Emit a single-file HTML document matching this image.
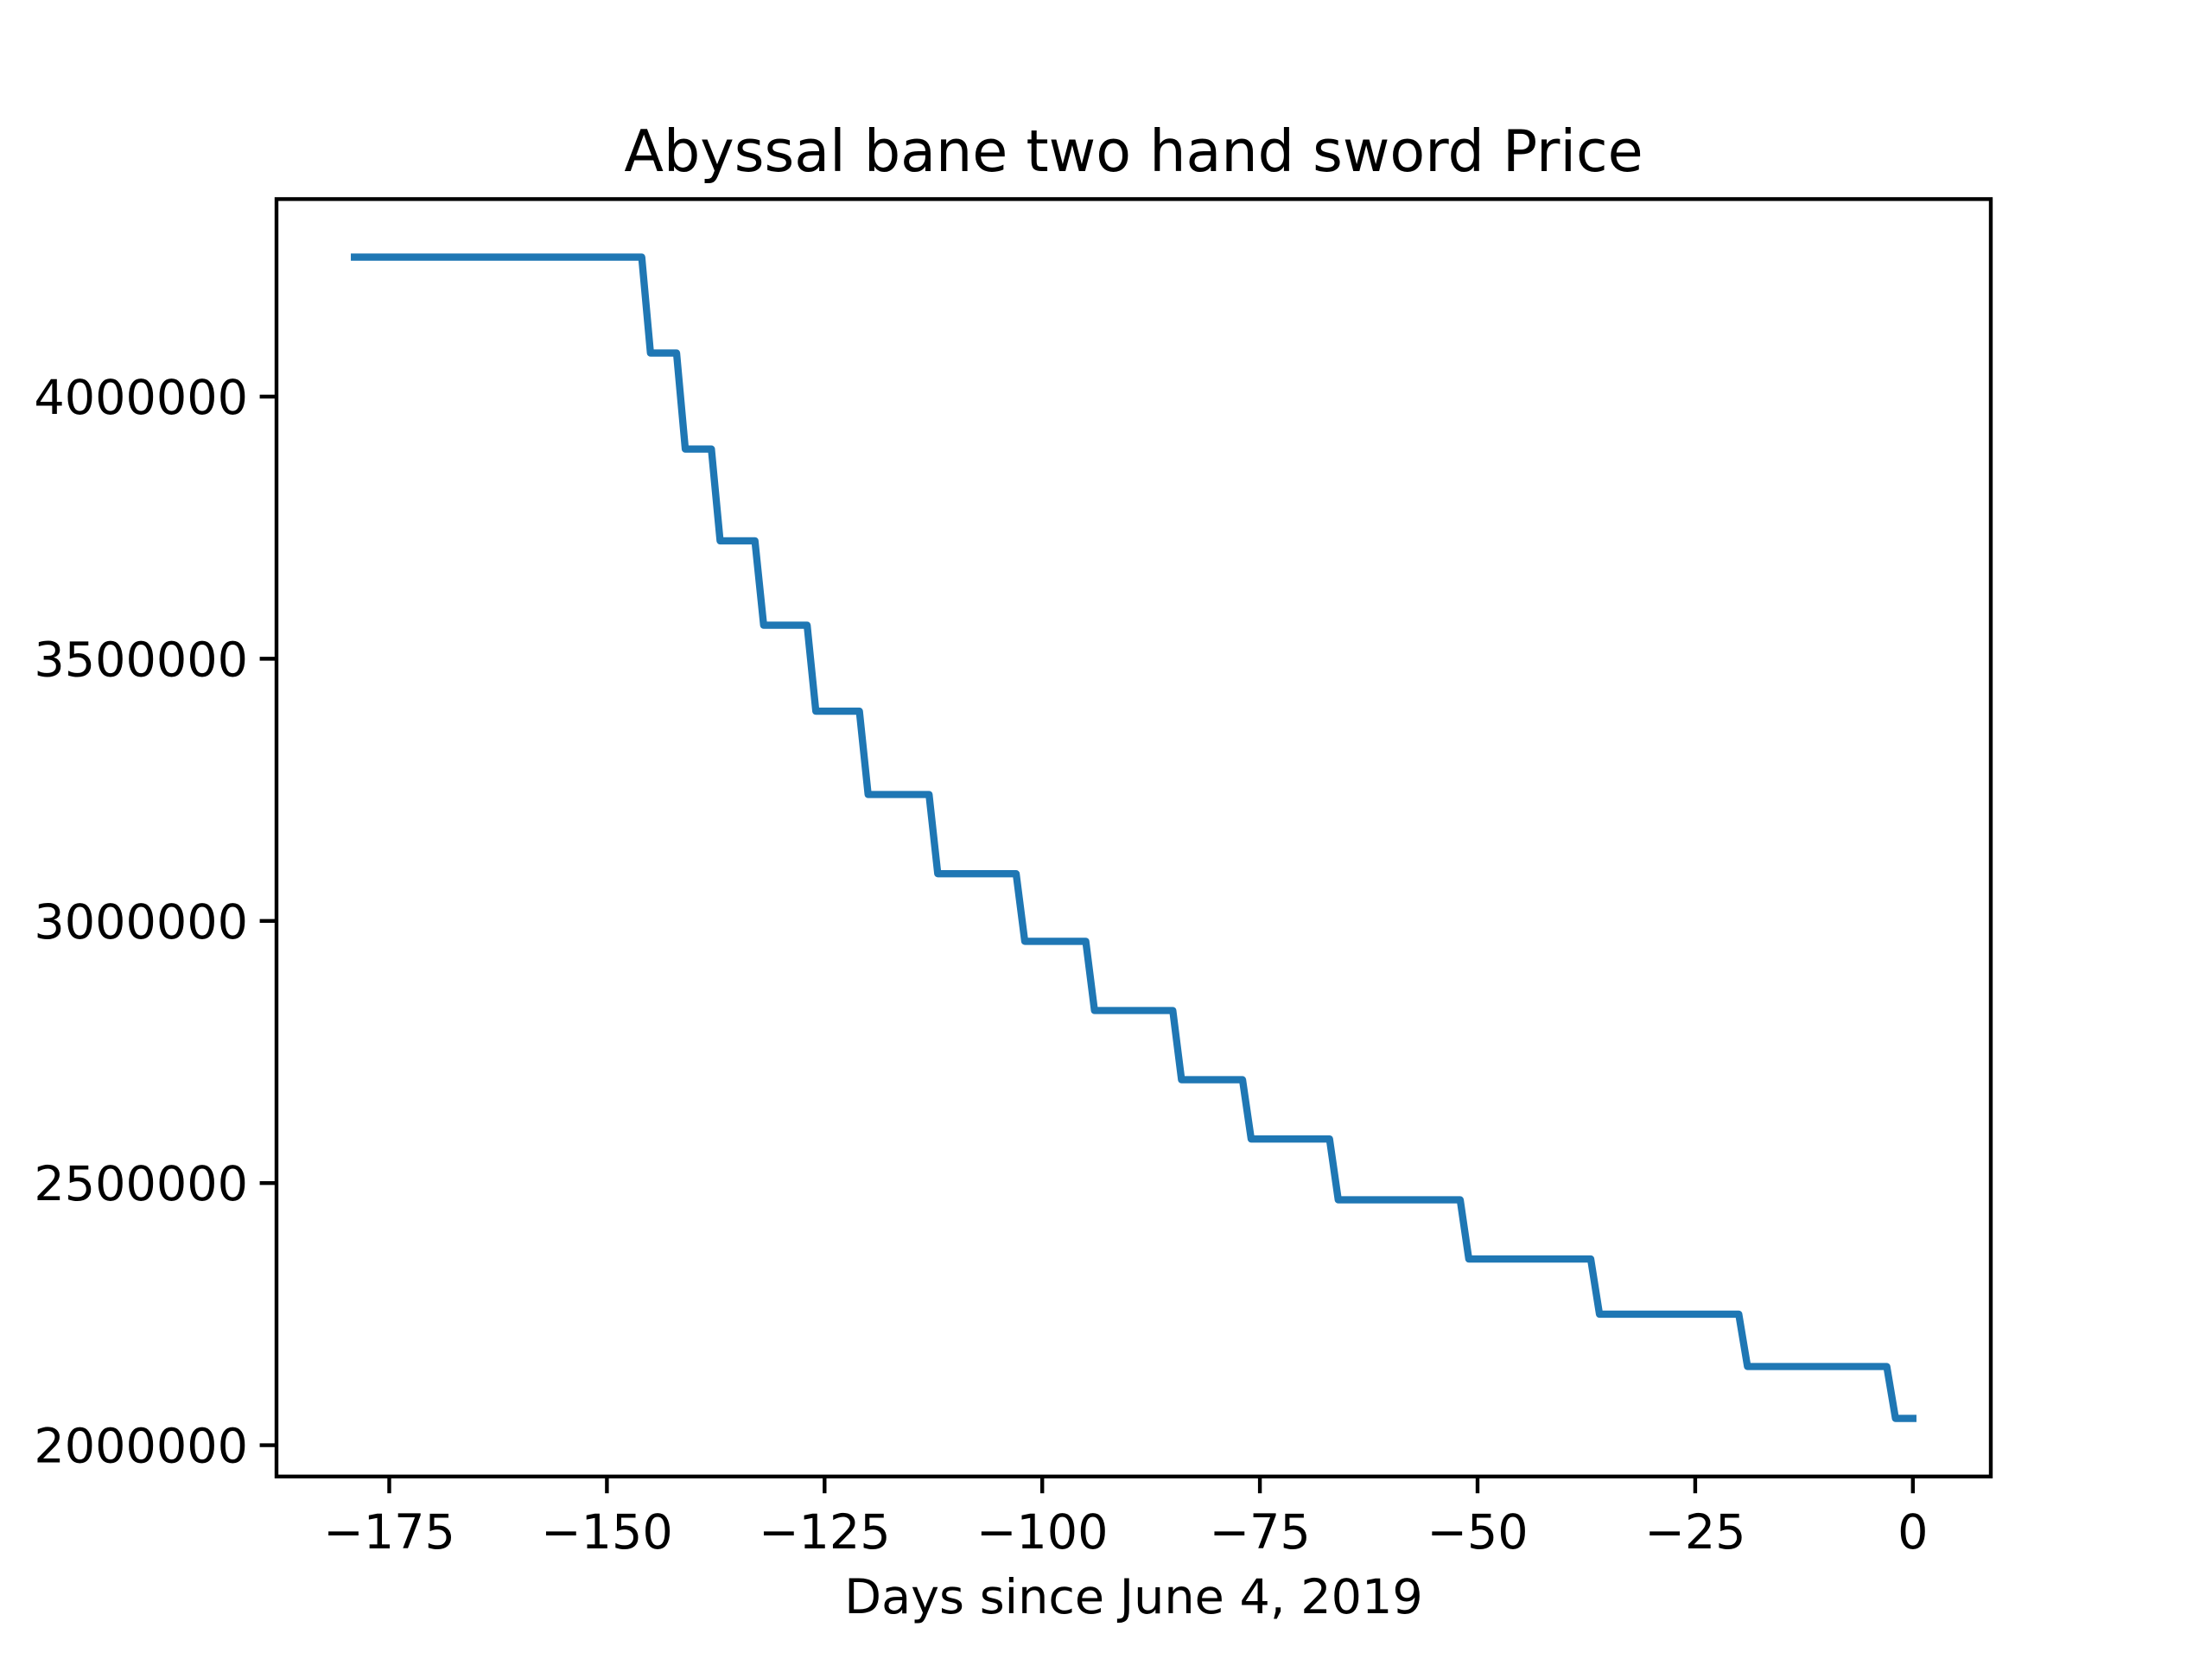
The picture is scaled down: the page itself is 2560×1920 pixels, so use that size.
<!DOCTYPE html>
<html><head><meta charset="utf-8"><style>
html,body{margin:0;padding:0;background:#fff;width:2560px;height:1920px;overflow:hidden}
svg{display:block}
text{font-family:"DejaVu Sans","Liberation Sans",sans-serif;fill:#000}
</style></head><body>
<svg id="chart" width="2560" height="1920" viewBox="0 0 2560 1920" xmlns="http://www.w3.org/2000/svg">
<rect width="2560" height="1920" fill="#fff"/>
<text x="1312" y="198" font-size="66.7" text-anchor="middle">Abyssal bane two hand sword Price</text>
<text x="1312" y="1867" font-size="55.6" text-anchor="middle">Days since June 4, 2019</text>
<text transform="translate(-12,950) rotate(-90)" font-size="55.6" text-anchor="middle">Price (gp)</text>
<g id="ticks"></g>
<polyline id="series" fill="none" stroke="#1f77b4" stroke-width="8.33" stroke-linejoin="round" stroke-linecap="square"/>
<rect x="320" y="230.4" width="1984" height="1478.4" fill="none" stroke="#000" stroke-width="4.4"/>
</svg>
<script>
const days = [-179,-146,-145,-142,-141,-138,-137,-133,-132,-127,-126,-121,-120,-113,-112,-103,-102,-95,-94,-85,-84,-77,-76,-67,-66,-52,-51,-37,-36,-20,-19,-3,-2,0];
const prices = [4266000,4266000,4083000,4083000,3900000,3900000,3725000,3725000,3564000,3564000,3400000,3400000,3241000,3241000,3090000,3090000,2961000,2961000,2829000,2829000,2697000,2697000,2584000,2584000,2468000,2468000,2355000,2355000,2250000,2250000,2150000,2150000,2051000,2051000];
const xTicks = [-175,-150,-125,-100,-75,-50,-25,0];
const yTicks = [2000000,2500000,3000000,3500000,4000000];

const L=320,R=2304,T=230.4,B=1708.8;
const xmin=Math.min(...days), xmax=Math.max(...days);
const ymin=Math.min(...prices), ymax=Math.max(...prices);
const xpad=(xmax-xmin)*0.05, ypad=(ymax-ymin)*0.05;
const x0=xmin-xpad, x1=xmax+xpad, y0=ymin-ypad, y1=ymax+ypad;
const sx=v=>L+(v-x0)/(x1-x0)*(R-L);
const sy=v=>B-(v-y0)/(y1-y0)*(B-T);
const NS="http://www.w3.org/2000/svg";
const line=document.getElementById('series');
line.setAttribute('points', days.map((d,i)=>sx(d).toFixed(1)+','+sy(prices[i]).toFixed(1)).join(' '));
const g=document.getElementById('ticks');
xTicks.forEach(t=>{
  const x=sx(t);
  const l=document.createElementNS(NS,'line');
  
  
  l.setAttribute('x1',x);l.setAttribute('x2',x);l.setAttribute('y1',B);l.setAttribute('y2',B+19.4);
  l.setAttribute('stroke','#000');l.setAttribute('stroke-width','4.4');
  g.appendChild(l);
  const tx=document.createElementNS(NS,'text');
  
  
  tx.setAttribute('x',x);tx.setAttribute('y',B+83);tx.setAttribute('font-size','55.6');tx.setAttribute('text-anchor','middle');
  tx.textContent=t<0?'\u2212'+(-t):String(t);
  g.appendChild(tx);
});
yTicks.forEach(t=>{
  const y=sy(t);
  const l=document.createElementNS(NS,'line');
  
  
  l.setAttribute('x1',L-19.4);l.setAttribute('x2',L);l.setAttribute('y1',y);l.setAttribute('y2',y);
  l.setAttribute('stroke','#000');l.setAttribute('stroke-width','4.4');
  g.appendChild(l);
  const tx=document.createElementNS(NS,'text');
  
  
  tx.setAttribute('x',L-33);tx.setAttribute('y',y+20);tx.setAttribute('font-size','55.6');tx.setAttribute('text-anchor','end');
  tx.textContent=String(t);
  g.appendChild(tx);
});
</script>
</body></html>
